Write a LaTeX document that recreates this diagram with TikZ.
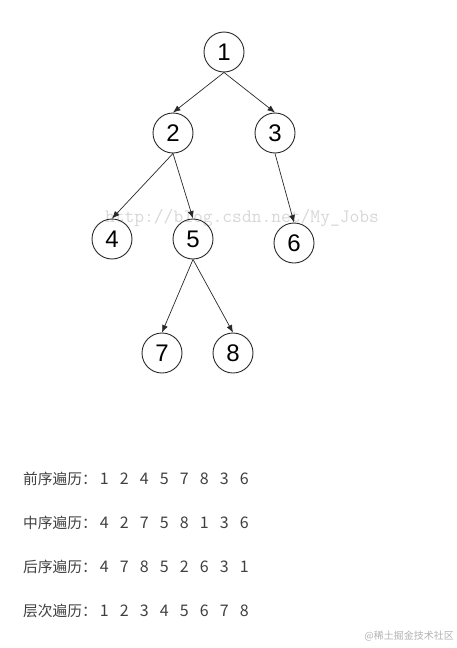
\documentclass[tikz,border=0pt]{standalone}
\usepackage{fontspec}
\setmainfont{Liberation Sans}
\newfontfamily\cjk{Noto Sans CJK SC}
\usetikzlibrary{arrows.meta,positioning}
\definecolor{edgeline}{RGB}{40,40,40}
\definecolor{travtext}{RGB}{64,64,64}
\definecolor{wmark}{RGB}{215,215,215}
\newcommand{\travdigits}[1]{\foreach \d in {#1}{\makebox[20pt][l]{\fontsize{16}{16}\selectfont\d}}}

\begin{document}
\begin{tikzpicture}[x=1pt, y=-1pt,
    vert/.style={circle, draw=edgeline, line width=0.9pt, minimum size=40pt, inner sep=0pt,
                 font=\fontsize{24}{24}\selectfont, on grid},
    travline/.style={anchor=base west, inner sep=0pt, text=travtext,
                 font=\cjk\fontsize{14.75}{15}\selectfont},
    arr/.style={-{Latex[length=7.5pt,width=6pt]}, line width=0.7pt, edgeline}
]
\useasboundingbox (0,0) rectangle (457,648);
\node[inner sep=0pt, text=wmark, font=\ttfamily\fontsize{19}{19}\selectfont] (wm) at (242,218) {http://blog.csdn.net/My\_Jobs};
\node[vert] (n1) at (224,52) {1};
\node[vert, below left=81pt and 51pt of n1] (n2) {2};
\node[vert, below right=81pt and 51pt of n1] (n3) {3};
\node[vert, below left=106pt and 61pt of n2] (n4) {4};
\node[vert, below right=106pt and 20pt of n2] (n5) {5};
\node[vert, below right=110pt and 19pt of n3] (n6) {6};
\node[vert, below left=114pt and 31pt of n5] (n7) {7};
\node[vert, below right=114pt and 40pt of n5] (n8) {8};
\draw[arr] (n1.south) -- (n2.north);
\draw[arr] (n1.south) -- (n3.north);
\draw[arr] (n2.south) -- (n4.north);
\draw[arr] (n2.south) -- (n5.north);
\draw[arr] (n3.south) -- (n6.north);
\draw[arr] (n5.south) -- (n7.north);
\draw[arr] (n5.south) -- (n8.north);
\node[travline] (t1) at (23,484) {前序遍历：\hspace{3pt}\travdigits{1,2,4,5,7,8,3,6}};
\node[travline, below=44pt of t1.base west, anchor=base west] (t2) {中序遍历：\hspace{3pt}\travdigits{4,2,7,5,8,1,3,6}};
\node[travline, below=44pt of t2.base west, anchor=base west] (t3) {后序遍历：\hspace{3pt}\travdigits{4,7,8,5,2,6,3,1}};
\node[travline, below=44pt of t3.base west, anchor=base west] (t4) {层次遍历：\hspace{3pt}\travdigits{1,2,3,4,5,6,7,8}};
\node[inner sep=0pt, anchor=east, text=black!30, font=\cjk\fontsize{10}{10}\selectfont] (src) at (454,636) {@稀土掘金技术社区};
\end{tikzpicture}
\end{document}
